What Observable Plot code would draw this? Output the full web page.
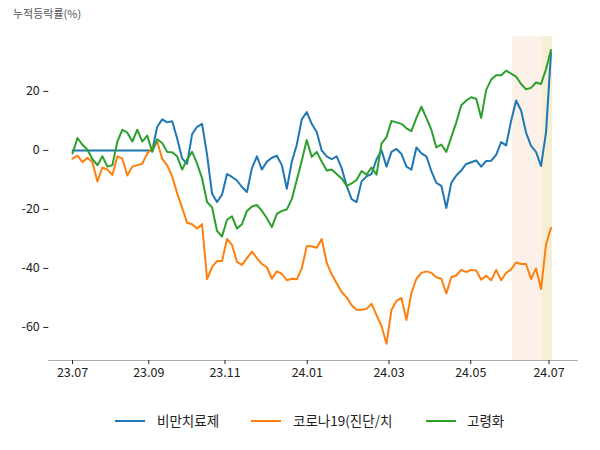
<!DOCTYPE html>
<html><head><meta charset="utf-8">
<script src="https://cdn.jsdelivr.net/npm/d3@7"></script>
<script src="https://cdn.jsdelivr.net/npm/@observablehq/plot@0.6"></script>
<style>
body{margin:0;background:#fff;font-family:"Noto Sans CJK KR","Noto Sans",sans-serif;}
#wrap{position:relative;width:600px;height:450px;}
#title{position:absolute;left:13px;top:5px;font-size:11px;color:#555;z-index:2;}
.lg-line{position:absolute;height:2px;width:30px;z-index:2;}
.lg-text{position:absolute;font-size:13.5px;color:#222;line-height:16px;z-index:2;}
</style></head>
<body><div id="wrap"><div id="title">누적등락률(%)</div></div>
<script>
const seriesNames = ["비만치료제", "코로나19(진단/치", "고령화"];
const seriesColors = ["#1f77b4", "#ff7f0e", "#2ca02c"];
const obesity = [0,0,0,0,0,0,0,0,0,0,0,0,0,0,0,0,0,8,10.5,9.5,9.9,4,-2.8,-4.5,5.5,8,9,-1.5,-14.7,-17.5,-15,-8,-9,-10.2,-12.4,-14.1,-6,-2,-6.5,-3.8,-2.5,-1.8,-5,-13,-3.8,1.9,10.5,13,9,6.2,0,-2,-3,-2,-6,-12,-16.5,-17.5,-10.5,-8.8,-8,-3,0,-5.5,-0.5,0.5,-1.2,-5.5,-6.5,1,-1,-2,-7,-11,-12,-19.5,-11,-8.5,-6.8,-4.6,-4,-3.4,-5.5,-3.6,-3.5,-1.5,2.8,1.7,10,16.9,13.5,6,1.5,-0.5,-5.3,6,33];
const covid = [-2.8,-1.8,-4,-2.5,-4,-10.5,-5.8,-6.5,-8.3,-2,-2.8,-8.5,-5.5,-5,-4.5,-1,0.5,3,-2.9,-5.1,-8.8,-14.5,-19.5,-24.5,-25,-26.5,-25,-43.6,-39.5,-37.5,-37.5,-30,-32,-37.8,-38.8,-36.5,-34.3,-36.5,-38.5,-39.6,-43.5,-41,-41.8,-44,-43.5,-43.7,-40,-32.5,-32.5,-33,-30,-38,-42,-45,-48,-49.8,-52.5,-54,-54,-53.7,-52,-55.8,-59.5,-65.5,-54,-51,-50,-57.5,-48.3,-43.5,-41.5,-41,-41.5,-43,-43.5,-48.5,-43,-42.4,-40.5,-41.2,-40.5,-40.7,-43.8,-42.5,-44,-40.5,-44,-41.5,-40.3,-38,-38.5,-38.5,-43.6,-40,-47,-32,-26.2];
const aging = [-1,4.2,1.9,0.2,-3,-5,-2,-5.5,-5,3,7,6,3,7,3,5,-0.5,3.8,2.5,-0.5,-0.6,-2,-6.5,-3,-0.5,-4.5,-9.5,-17.5,-19.3,-27.3,-29.2,-23.5,-22.3,-26.5,-25,-20.5,-19,-18.5,-20.5,-23,-26,-21.5,-20.5,-20,-16.5,-10,-3.5,3.5,-2.2,-0.5,-3.8,-6.8,-6.5,-8,-9.5,-12,-11.2,-10,-7,-8.2,-5.8,-8.2,2.3,4.5,10,9.5,9,7.5,6.5,11,14.8,11,7,1,2,-0.5,4.5,9.5,15.3,16.9,18,17.5,11,20.5,24,25.5,25.5,27,26,25,22.5,20.7,21.2,23,22.5,27.5,34];
const tickLabels = ["23.07","23.09","23.11","24.01","24.03","24.05","24.07"];
const tickIndex = [0, 15.3, 30.6, 47.1, 63.5, 79.9, 95.6];
const yTicks = [20, 0, -20, -40, -60];
const bandStart = [88.3, 94.3];
const bandEnd = [94.3, 96.3];
const bandColors = ["#fbf1e8", "#f4efd5"];

const allSeries = [obesity, covid, aging];
const rows = [];
allSeries.forEach((arr, s) => arr.forEach((v, i) => rows.push({i, v, name: seriesNames[s]})));
const bands = bandStart.map((b, k) => ({x1: b, x2: bandEnd[k], c: bandColors[k]}));

const chart = Plot.plot({
  width: 600, height: 450,
  marginLeft: 48.3, marginRight: 23.3, marginTop: 36, marginBottom: 90,
  style: {fontFamily: '"Noto Sans CJK KR","Noto Sans",sans-serif', fontSize: "12.5px", color: "#222", background: "transparent"},
  x: {type: "linear", domain: [-4.755, 101.26]},
  y: {domain: [-71.2, 38.6]},
  color: {domain: seriesNames, range: seriesColors},
  marks: [
    Plot.rect(bands, {x1: "x1", x2: "x2", fill: "c"}),
    Plot.frame({anchor: "bottom", stroke: "#aaa", strokeWidth: 1}),
    Plot.axisX({ticks: tickIndex, tickFormat: d => tickLabels[tickIndex.indexOf(d)], tickSize: 4, tickPadding: 4, fontSize: 12.5, stroke: "#222", label: null}),
    Plot.axisY({ticks: yTicks, tickFormat: d => String(d), tickSize: 5, tickPadding: 4, fontSize: 12.5, stroke: "#222", label: null}),
    Plot.lineY(rows, {x: "i", y: "v", z: "name", stroke: "name", strokeWidth: 2})
  ]
});
const wrap = document.getElementById("wrap");
chart.style.position = "absolute"; chart.style.left = "0"; chart.style.top = "0";
wrap.insertBefore(chart, wrap.firstChild);

const lineLeft = [115, 251, 426];
const textLeft = [157, 293, 467];
seriesNames.forEach((n, k) => {
  const l = document.createElement("div");
  l.className = "lg-line"; l.style.left = lineLeft[k] + "px"; l.style.top = "420px"; l.style.background = seriesColors[k];
  wrap.appendChild(l);
  const t = document.createElement("div");
  t.className = "lg-text"; t.style.left = textLeft[k] + "px"; t.style.top = "412px"; t.textContent = n;
  wrap.appendChild(t);
});
</script></body></html>
